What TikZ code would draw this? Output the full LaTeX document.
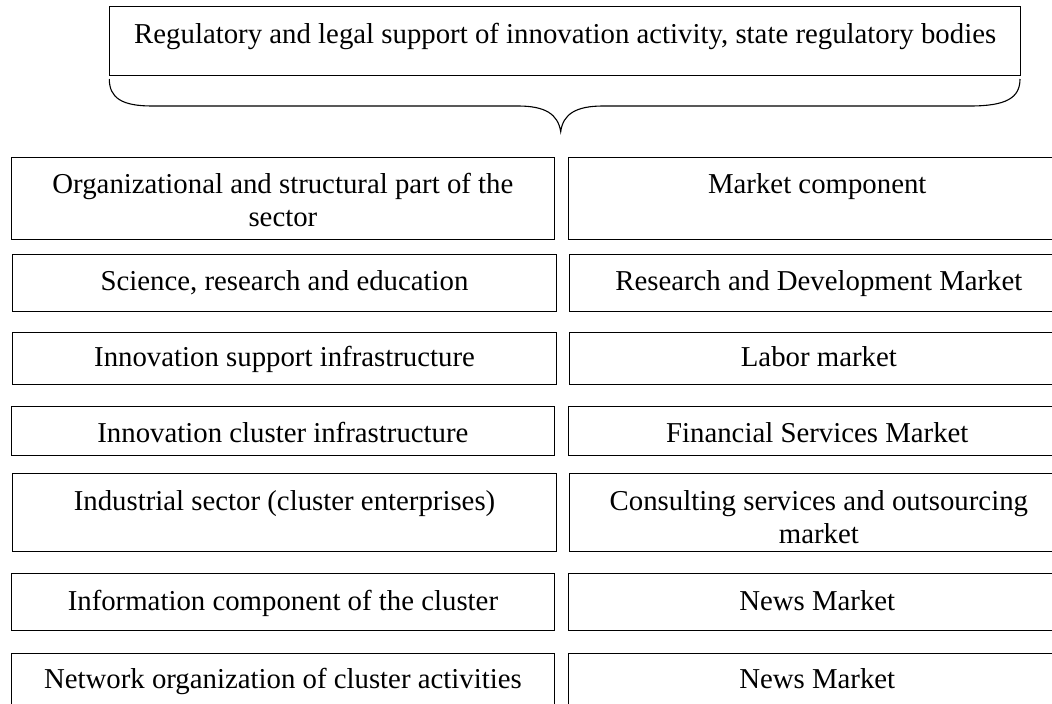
\documentclass[tikz,border=0pt]{standalone}
\usepackage{fontspec}
\setmainfont{Liberation Serif}
\usetikzlibrary{calc}
\begin{document}
\begin{tikzpicture}[x=1pt,y=-1pt,
  boxshape/.style={draw=black, line width=1.1pt, rectangle, inner sep=0pt, anchor=north west},
  boxA/.style={boxshape, minimum width=543.3pt},
  boxB/.style={boxshape, minimum width=543.4pt},
  rboxA/.style={boxshape, minimum width=498pt},
  txt/.style={font=\fontsize{28.8}{33}\selectfont, align=center, inner sep=0pt, anchor=base},
  bracestyle/.style={draw=black, line width=1.1pt}]
\useasboundingbox (0,0) rectangle (1052,704);
\clip (0,0) rectangle (1052,704);

% top box
\node[boxshape, minimum width=910.7pt, minimum height=69pt] (top) at (109.3,6) {};
\node[txt] (toptxt) at ($(top.north)+(0,37)$) {Regulatory and legal support of innovation activity, state regulatory bodies};

% brace
\coordinate (bl) at (109.3,79);
\coordinate (br) at (1020,79);
\coordinate (tip) at (560.7,131.7);
\path[bracestyle] (bl) .. controls (109.3,98) and (122,106) .. (152,106)
  -- (518,106) .. controls (545,106) and (558,114) .. (tip)
  .. controls (563,114) and (576,106) .. (603,106)
  -- (970,106) .. controls (1006,106) and (1020,98) .. (br);

% left column
\node[boxA, minimum height=82.3pt] (l1) at (10.7,156.7) {};
\node[boxB, minimum height=56.4pt] (l2) at (12.3,254.3) {};
\node[boxB, minimum height=52.6pt] (l3) at (12.3,331.7) {};
\node[boxA, minimum height=49pt]   (l4) at (10.7,406) {};
\node[boxB, minimum height=77.7pt] (l5) at (12.3,473.3) {};
\node[boxA, minimum height=56.7pt] (l6) at (10.7,573.3) {};
\node[boxA, minimum height=54pt]   (l7) at (10.7,653.3) {};

% right column
\node[rboxA, minimum height=82.3pt] (r1) at (567.7,156.7) {};
\node[rboxA, minimum height=56.4pt] (r2) at (569.3,254.3) {};
\node[rboxA, minimum height=52.6pt] (r3) at (569.3,331.7) {};
\node[rboxA, minimum height=49pt]   (r4) at (567.7,406) {};
\node[rboxA, minimum height=77.7pt] (r5) at (569.3,473.3) {};
\node[rboxA, minimum height=56.7pt] (r6) at (567.7,573.3) {};
\node[rboxA, minimum height=54pt]   (r7) at (567.7,653.3) {};

% left texts (base anchor of a two-line node is its last line)
\node[txt] (tl1) at ($(l1.north)+(0,70)$) {Organizational and structural part of the\\sector};
\node[txt] (tl2) at ($(l2.north)+(0,36)$) {Science, research and education};
\node[txt] (tl3) at ($(l3.north)+(0,35)$) {Innovation support infrastructure};
\node[txt] (tl4) at ($(l4.north)+(0,36)$) {Innovation cluster infrastructure};
\node[txt] (tl5) at ($(l5.north)+(0,36.7)$) {Industrial sector (cluster enterprises)};
\node[txt] (tl6) at ($(l6.north)+(0,36.7)$) {Information component of the cluster};
\node[txt] (tl7) at ($(l7.north)+(0,35)$) {Network organization of cluster activities};

% right texts
\node[txt] (tr1) at ($(r1.north)+(0,37)$) {Market component};
\node[txt] (tr2) at ($(r2.north)+(0,36)$) {Research and Development Market};
\node[txt] (tr3) at ($(r3.north)+(0,35)$) {Labor market};
\node[txt] (tr4) at ($(r4.north)+(0,36)$) {Financial Services Market};
\node[txt] (tr5) at ($(r5.north)+(0,69.7)$) {Consulting services and outsourcing\\market};
\node[txt] (tr6) at ($(r6.north)+(0,36.7)$) {News Market};
\node[txt] (tr7) at ($(r7.north)+(0,35)$) {News Market};
\end{tikzpicture}
\end{document}
